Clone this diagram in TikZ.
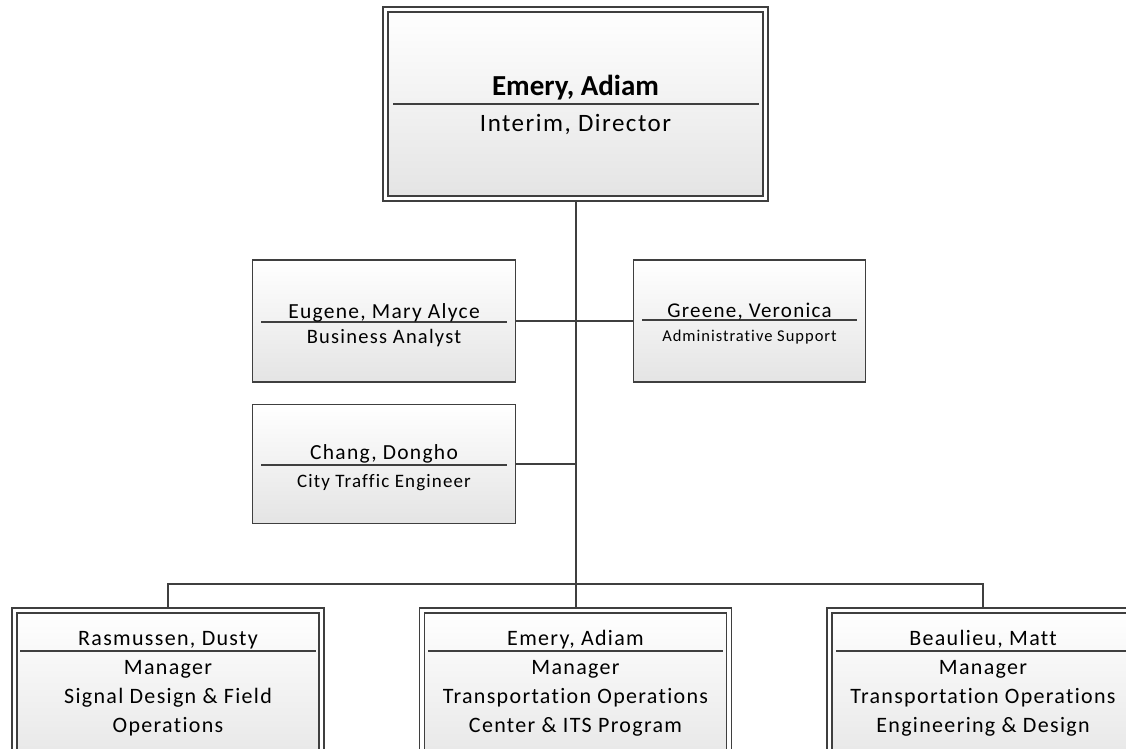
\documentclass[tikz,border=0pt]{standalone}
\usepackage{fontspec}
\setmainfont{Carlito}[LetterSpace=6,Ligatures=NoCommon,BoldFeatures={LetterSpace=0}]
\usetikzlibrary{shadows,backgrounds}
\definecolor{boxline}{HTML}{3F3F3F}
\definecolor{boxfill}{HTML}{E4E4E4}
\tikzset{
  unit/.style={draw=boxline,line width=1.6pt,top color=white,bottom color=boxfill,inner sep=0pt},
  headunit/.style={unit,double=white,double distance=3.4pt},
  link/.style={draw=boxline,line width=2pt},
  rule/.style={draw=boxline,line width=1.4pt},
  txt/.style={anchor=base,inner sep=0pt,text=black},
}
\begin{document}
\begin{tikzpicture}[x=1pt,y=-1pt,line cap=butt,line join=miter]
 \useasboundingbox (0,0) rectangle (1126,748);
 % director
 \node[headunit,minimum width=380.5pt,minimum height=189pt,
   drop shadow={shadow xshift=2.5pt,shadow yshift=-2.5pt,opacity=.3,fill=black!70}] (director) at (575.5,104) {};
 \draw[rule] (393,104) -- (759,104);
 \node[txt,font=\fontsize{29}{33}\selectfont\bfseries] (directorN) at (575.5,95) {Emery, Adiam};
 \node[txt,font=\fontsize{25}{29}\selectfont] (directorT) at (575.5,131) {Interim, Director};
 % staff
 \node[unit,minimum width=263pt,minimum height=122pt] (eugene) at (384,321) {};
 \draw[rule] (261,322) -- (507,322);
 \node[txt,font=\fontsize{21.5}{25}\selectfont] (eugeneN) at (384,318) {Eugene, Mary Alyce};
 \node[txt,font=\fontsize{20.5}{24}\selectfont] (eugeneT) at (384,343) {Business Analyst};
 \node[unit,minimum width=232pt,minimum height=122pt] (greene) at (749.5,321) {};
 \draw[rule] (642,320) -- (857,320);
 \node[txt,font=\fontsize{21}{25}\selectfont] (greeneN) at (749.5,317) {Greene, Veronica};
 \node[txt,font=\fontsize{16.5}{20}\selectfont] (greeneT) at (749.5,341) {Administrative Support};
 \node[unit,minimum width=263pt,minimum height=119pt] (chang) at (384,464) {};
 \draw[rule] (261,465) -- (507,465);
 \node[txt,font=\fontsize{21.5}{25}\selectfont] (changN) at (384,459) {Chang, Dongho};
 \node[txt,font=\fontsize{19}{23}\selectfont] (changT) at (384,487) {City Traffic Engineer};
 % managers
 \begin{scope}[every node/.append style={font=\fontsize{22}{26}\selectfont}]
   \node[headunit,minimum width=307pt,minimum height=170pt,anchor=north] (rasmussen) at (168,609.5) {};
   \draw[rule] (20,651) -- (316,651);
   \node[txt] (rasmussenN) at (168,645) {Rasmussen, Dusty};
   \node[txt] (rasmussenA) at (168,674) {Manager};
   \node[txt] (rasmussenB) at (168,703) {Signal Design \& Field};
   \node[txt] (rasmussenC) at (168,732) {Operations};
   \node[headunit,minimum width=307pt,minimum height=170pt,anchor=north] (emery) at (575.5,609.5) {};
   \draw[rule] (428,651) -- (723,651);
   \node[txt] (emeryN) at (575.5,645) {Emery, Adiam};
   \node[txt] (emeryA) at (575.5,674) {Manager};
   \node[txt] (emeryB) at (575.5,703) {Transportation Operations};
   \node[txt] (emeryC) at (575.5,732) {Center \& ITS Program};
   \node[headunit,minimum width=307pt,minimum height=170pt,anchor=north] (beaulieu) at (983,609.5) {};
   \draw[rule] (836,651) -- (1131,651);
   \node[txt] (beaulieuN) at (983,645) {Beaulieu, Matt};
   \node[txt] (beaulieuA) at (983,674) {Manager};
   \node[txt] (beaulieuB) at (983,703) {Transportation Operations};
   \node[txt] (beaulieuC) at (983,732) {Engineering \& Design};
 \end{scope}
 % connectors
 \coordinate (bus) at (575.5,584);
 \begin{scope}[on background layer]
   \draw[link] (director.south) -- (bus);
   \draw[link] (eugene.east) -- (greene.west);
   \draw[link] (chang.east) -- (chang.east -| bus);
   \draw[link] (rasmussen.north) |- (bus) -| (beaulieu.north);
   \draw[link] (bus) -- (emery.north);
 \end{scope}
\end{tikzpicture}
\end{document}
